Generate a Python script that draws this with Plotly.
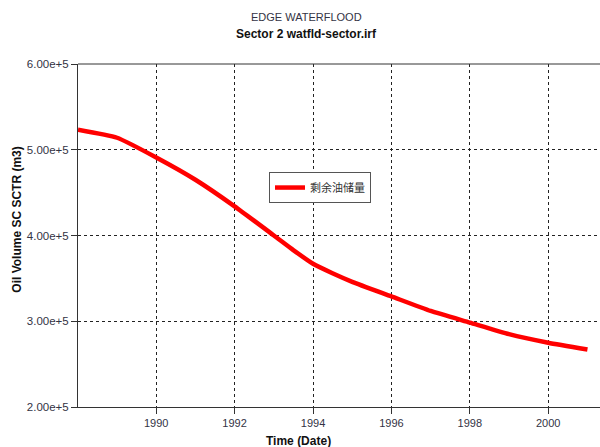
import plotly.graph_objects as go

dates = ["1988-01-03", "1989-01-01", "1990-01-01", "1991-01-01", "1992-01-01",
         "1993-01-01", "1993-07-01", "1994-01-01", "1994-07-01", "1995-01-01",
         "1996-01-01", "1997-01-01", "1998-01-01", "1999-01-01", "2000-01-01",
         "2001-01-01"]
oil_volume = [523400, 514000, 491000, 465000, 434000, 400000, 383000, 367000,
              356000, 346000, 329000, 312000, 298500, 285000, 275000, 267000]
series_name = "剩余油储量"
title1 = "EDGE WATERFLOOD"
title2 = "Sector 2 watfld-sector.irf"
y_title = "Oil Volume SC SCTR (m3)"
x_title = "Time (Date)"

FONT = "Liberation Sans, Arial, sans-serif"
TICKCOL = "#333344"

fig = go.Figure()
fig.add_trace(go.Scatter(x=dates, y=oil_volume, mode="lines", name=series_name,
                         line=dict(color="#ff0000", width=4.5, shape="spline",
                                   smoothing=0.5),
                         showlegend=True))

fig.update_layout(
    width=610, height=447,
    margin=dict(l=78, r=0, t=64, b=40, autoexpand=False),
    paper_bgcolor="white", plot_bgcolor="white",
    font=dict(family=FONT, size=11, color=TICKCOL),
    showlegend=True,
    legend=dict(x=0.359, y=0.685, xanchor="left", yanchor="top",
                bgcolor="white", bordercolor="#555555", borderwidth=1,
                font=dict(family="Noto Sans CJK SC", size=11, color="#333333"),
                tracegroupgap=0, itemwidth=30),
    xaxis=dict(type="date", range=["1988-01-03", "2001-07-30"],
               tick0="1990-01-01", dtick="M24", tickformat="%Y",
               showgrid=True, gridcolor="#222222", griddash="3px,3px", gridwidth=1,
               showline=True, linecolor="#333333", linewidth=1,
               ticks="outside", ticklen=6, tickcolor="#333333",
               tickfont=dict(family=FONT, size=11, color=TICKCOL),
               zeroline=False, automargin=False),
    yaxis=dict(range=[200000, 600000], dtick=100000, tick0=200000,
               tickformat=".2e",
               showgrid=True, gridcolor="#222222", griddash="3px,3px", gridwidth=1,
               showline=True, linecolor="#333333", linewidth=1,
               ticks="outside", ticklen=6, tickcolor="#333333",
               tickfont=dict(family=FONT, size=11.5, color=TICKCOL),
               zeroline=False, automargin=False),
    shapes=[dict(type="line", xref="paper", yref="paper", x0=0, x1=1, y0=1, y1=1,
                 line=dict(color="#333333", width=1))],
    annotations=[
        dict(text=title1, x=0.430, y=1.138, xref="paper", yref="paper",
             showarrow=False, xanchor="center", yanchor="middle",
             font=dict(family=FONT, size=11, color="#333344")),
        dict(text="<b>" + title2 + "</b>", x=0.430, y=1.088, xref="paper", yref="paper",
             showarrow=False, xanchor="center", yanchor="middle",
             font=dict(family=FONT, size=12, color="#111111")),
        dict(text="<b>" + y_title + "</b>", x=-0.1147, y=0.546, xref="paper", yref="paper",
             showarrow=False, xanchor="center", yanchor="middle", textangle=-90,
             font=dict(family=FONT, size=12, color="#111111")),
        dict(text="<b>" + x_title + "</b>", x=0.415, y=-0.1003, xref="paper", yref="paper",
             showarrow=False, xanchor="center", yanchor="middle",
             font=dict(family=FONT, size=12, color="#111111")),
    ],
)

fig.write_html("out.html", config={"displayModeBar": False},
               post_script="document.body.style.margin='0';document.body.style.overflow='hidden';")
